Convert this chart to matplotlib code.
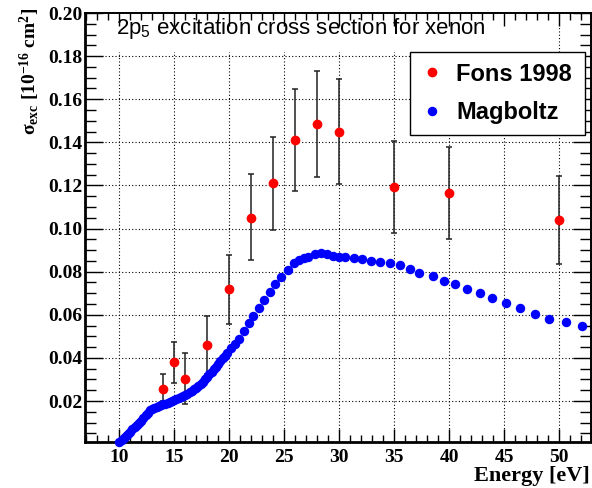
import numpy as np
import matplotlib
matplotlib.use("Agg")
import matplotlib.pyplot as plt
from matplotlib.ticker import MultipleLocator, FixedLocator
from matplotlib.patches import Rectangle

plt.rcParams['mathtext.default'] = 'regular'

# Fons 1998 measurement (energy in eV, sigma in 1e-16 cm^2, error band low/high)
fons_e = [14, 15, 16, 18, 20, 22, 24, 26, 28, 30, 35, 40, 50]
fons_sig = [0.0255, 0.0381, 0.0304, 0.0461, 0.0718, 0.1051, 0.1212,
            0.1411, 0.1485, 0.1450, 0.1191, 0.1164, 0.1042]
fons_lo = [0.0199, 0.0282, 0.0184, 0.0326, 0.0556, 0.0852, 0.0995,
           0.1176, 0.1240, 0.1207, 0.0978, 0.0951, 0.0837]
fons_hi = [0.0324, 0.0474, 0.0424, 0.0596, 0.0878, 0.1252, 0.1427,
           0.1647, 0.1730, 0.1695, 0.1407, 0.1378, 0.1245]

# Magboltz calculation
mag_e = [10.0, 10.2, 10.4, 10.6, 10.8, 11.0, 11.2, 11.4, 11.6, 11.8,
         12.0, 12.2, 12.4, 12.6, 12.8, 13.0, 13.2, 13.4, 13.6, 13.8,
         14.0, 14.2, 14.4, 14.6, 14.8, 15.0, 15.2, 15.4, 15.6, 15.8,
         16.0, 16.2, 16.4, 16.6, 16.8, 17.0, 17.2, 17.4, 17.6, 17.8,
         18.0, 18.2, 18.4, 18.6, 18.8, 19.0, 19.2, 19.4, 19.6, 19.8,
         20.2, 20.5, 20.9, 21.3, 21.8, 22.2, 22.7, 23.15, 23.7, 24.2,
         24.7, 25.3, 25.9, 26.3, 26.8, 27.2, 27.8, 28.3, 28.85, 29.45,
         30.0, 30.5, 31.3, 32.1, 32.9, 33.7, 34.6, 35.5, 36.4, 37.3,
         38.5, 39.5, 40.5, 41.6, 42.8, 43.9, 45.2, 46.4, 47.8, 49.1,
         50.6, 52.1]
mag_sig = [0.0008, 0.0018, 0.0028, 0.0038, 0.0048, 0.0058, 0.0068, 0.0078, 0.0088, 0.0098,
           0.0109, 0.0121, 0.0133, 0.0145, 0.0157, 0.0164, 0.0169, 0.0173, 0.0176, 0.0180,
           0.0184, 0.0188, 0.0192, 0.0196, 0.0200, 0.0204, 0.0208, 0.0213, 0.0218, 0.0223,
           0.0228, 0.0234, 0.0241, 0.0248, 0.0255, 0.0262, 0.0271, 0.0280, 0.0290, 0.0301,
           0.0312, 0.0324, 0.0336, 0.0348, 0.0360, 0.0372, 0.0385, 0.0398, 0.0411, 0.0424,
           0.0446, 0.0466, 0.0489, 0.0525, 0.0563, 0.0594, 0.0631, 0.0671, 0.0708, 0.0742,
           0.0775, 0.0807, 0.0840, 0.0853, 0.0862, 0.0868, 0.0880, 0.0885, 0.0880, 0.0874,
           0.0869, 0.0866, 0.0862, 0.0857, 0.0851, 0.0845, 0.0839, 0.0829, 0.0811, 0.0795,
           0.0778, 0.0758, 0.0741, 0.0718, 0.0700, 0.0676, 0.0656, 0.0631, 0.0606, 0.0582,
           0.0565, 0.0550]

xticks = [10, 15, 20, 25, 30, 35, 40, 45, 50]
yticks = [0.02, 0.04, 0.06, 0.08, 0.10, 0.12, 0.14, 0.16, 0.18, 0.20]
ytick_labels = ["%.2f" % v for v in yticks]

fig = plt.figure(figsize=(5.92, 4.88), dpi=100)
ax = fig.add_axes([85 / 592, 46 / 488, 506 / 592, 429 / 488])
ax.set_xlim(6.88, 52.9)
ax.set_ylim(0.001, 0.2)

# dotted grid, drawn by hand so the title box can sit above it but below the ticks
ax.vlines(xticks, 0.001, 0.2, colors='k', linestyles=(0, (1, 2)), lw=0.8, zorder=1)
ax.hlines(yticks[:-1], 6.88, 52.9, colors='k', linestyles=(0, (1, 2)), lw=0.8, zorder=1)
ax.add_patch(Rectangle((0, 0.909), 0.9, 0.091, transform=ax.transAxes,
                       fc='white', ec='none', zorder=1.2))
ax.set_axisbelow(False)

err = [np.array(fons_sig) - np.array(fons_lo), np.array(fons_hi) - np.array(fons_sig)]
ax.errorbar(fons_e, fons_sig, yerr=err, fmt='none', ecolor='#222222',
            elinewidth=1.1, capsize=2.2, capthick=1.1, zorder=2)
ax.plot(mag_e, mag_sig, 'o', color='blue', ms=5.8, mec='blue', zorder=3,
        clip_on=False, label='Magboltz')
ax.plot(fons_e, fons_sig, 'o', color='red', ms=6, mec='red', zorder=4,
        label='Fons 1998')

ax.xaxis.set_major_locator(FixedLocator(xticks))
ax.xaxis.set_minor_locator(MultipleLocator(1))
ax.yaxis.set_major_locator(FixedLocator(yticks))
ax.yaxis.set_minor_locator(MultipleLocator(0.005))
ax.set_yticklabels(ytick_labels)
ax.set_xticklabels([str(v) for v in xticks])

ax.tick_params(axis='both', which='both', direction='in', top=True, right=True, width=1)
ax.tick_params(axis='x', which='major', length=9.5, pad=5)
ax.tick_params(axis='x', which='minor', length=5)
ax.tick_params(axis='y', which='major', length=13, pad=2)
ax.tick_params(axis='y', which='minor', length=8)
for lab in ax.get_xticklabels() + ax.get_yticklabels():
    lab.set_family('Liberation Serif')
    lab.set_fontweight('bold')
    lab.set_fontsize(14)

ax.spines['left'].set_linewidth(2)
ax.spines['bottom'].set_linewidth(2)
ax.spines['top'].set_linewidth(1.4)
ax.spines['right'].set_linewidth(1.4)

ax.text(0.061, 0.965, r'2p$_5$ excitation cross section for xenon',
        transform=ax.transAxes, ha='left', va='center', fontsize=16,
        family='Liberation Sans', zorder=1.3)

fig.text(30 / 592, 1 - 8 / 488, r'σ$_{exc}$ [10$^{-16}$ cm$^{2}$]', rotation=90,
         ha='center', va='top', fontsize=14, family='Liberation Serif', fontweight='bold')
fig.text(590 / 592, 1 - 476 / 488, 'Energy [eV]', ha='right', va='center',
         fontsize=16, family='Liberation Serif', fontweight='bold')

handles, labels = ax.get_legend_handles_labels()
leg = ax.legend(handles[::-1], labels[::-1], loc='upper left',
                bbox_to_anchor=(0.642, 0.718, 0.346, 0.191), mode='expand',
                borderaxespad=0, fancybox=False, framealpha=1, edgecolor='black',
                prop={'family': 'Liberation Sans', 'weight': 'bold', 'size': 17},
                handlelength=1.0, handletextpad=0.5, borderpad=0.45,
                labelspacing=0.65, numpoints=1)
leg.get_frame().set_linewidth(1)
leg.set_zorder(5)

fig.savefig('out.png', dpi=100)
